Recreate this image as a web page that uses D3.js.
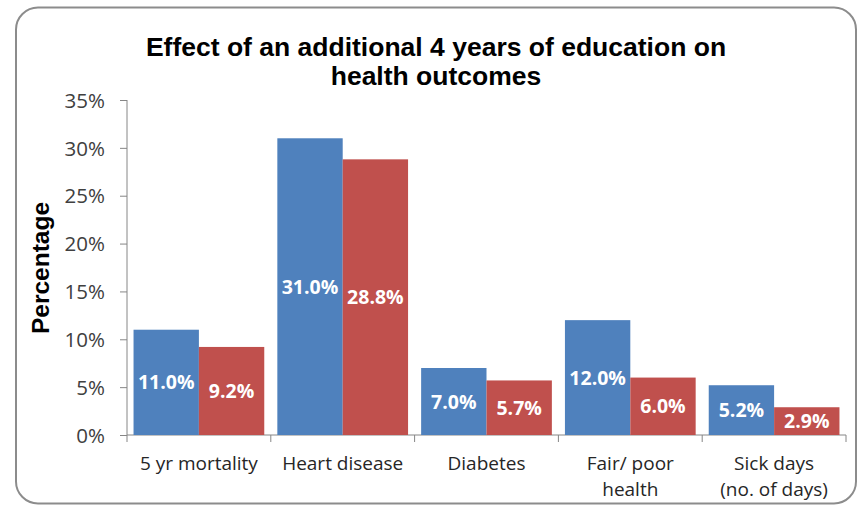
<!DOCTYPE html>
<html><head><meta charset="utf-8">
<script src="https://cdn.jsdelivr.net/npm/d3@7"></script>
<style>body{margin:0;background:#fff;} svg{display:block;}</style>
</head><body>
<script>
const categories = [["5 yr mortality"], ["Heart disease"], ["Diabetes"], ["Fair/ poor", "health"], ["Sick days", "(no. of days)"]];
const series1 = [11.0, 31.0, 7.0, 12.0, 5.2];
const series2 = [9.2, 28.8, 5.7, 6.0, 2.9];
const yTicks = [0, 5, 10, 15, 20, 25, 30, 35];
const titleLines = ["Effect of an additional 4 years of education on", "health outcomes"];
const yTitle = "Percentage";

const W = 857, H = 506;
const svg = d3.select("body").append("svg").attr("width", W).attr("height", H);

// frame
svg.append("rect").attr("x", 16).attr("y", 7.5).attr("width", 840).attr("height", 496)
  .attr("rx", 22).attr("ry", 22).attr("fill", "#fff").attr("stroke", "#8c8c8c").attr("stroke-width", 2);

const x0 = d3.scaleBand().domain(d3.range(categories.length)).range([127, 846]).paddingInner(0).paddingOuter(0);
const y = d3.scaleLinear().domain([0, 35]).range([435, 100]);
const inner = d3.scaleBand().domain([0, 1]).range([0, x0.bandwidth()]).paddingOuter(0.1).paddingInner(0);

// y axis
const yAxis = d3.axisLeft(y).tickValues(yTicks).tickSize(7).tickFormat(d => d + "%");
const gy = svg.append("g").attr("transform", "translate(127,0)").call(yAxis);
gy.select(".domain").attr("stroke", "#868686").attr("d", "M0,100V435");
gy.selectAll(".tick line").attr("stroke", "#868686");
gy.selectAll(".tick text").attr("x", -22).attr("dy", "0.35em").attr("fill", "#404040")
  .style("font-family", "'Open Sans', sans-serif").style("font-size", "20.5px");

// x axis
const gx = svg.append("g");
gx.append("line").attr("x1", 127).attr("x2", 846).attr("y1", y(0)).attr("y2", y(0)).attr("stroke", "#868686");
const bounds = d3.range(categories.length + 1).map(i => i < categories.length ? x0(i) : x0(i - 1) + x0.bandwidth());
gx.selectAll("line.tk").data(bounds).join("line").attr("class", "tk")
  .attr("x1", d => d).attr("x2", d => d).attr("y1", y(0)).attr("y2", y(0) + 7).attr("stroke", "#868686");

const labels = svg.append("g").selectAll("text").data(categories).join("text")
  .attr("text-anchor", "middle").attr("fill", "#262626")
  .style("font-family", "'Open Sans', sans-serif").style("font-size", "19px")
  .attr("x", (d, i) => x0(i) + x0.bandwidth() / 2);
labels.each(function(d, i) {
  const t = d3.select(this);
  d.forEach((line, j) => t.append("tspan").attr("x", x0(i) + x0.bandwidth() / 2).attr("y", 470 + j * 26).text(line));
});

// bars
const colors = ["#4F81BD", "#C0504D"];
const data = [];
categories.forEach((c, i) => { data.push({i, s: 0, v: series1[i]}); data.push({i, s: 1, v: series2[i]}); });
svg.append("g").selectAll("rect").data(data).join("rect")
  .attr("x", d => x0(d.i) + inner(d.s)).attr("width", inner.bandwidth())
  .attr("y", d => y(d.v)).attr("height", d => y(0) - y(d.v))
  .attr("fill", d => colors[d.s]);

svg.append("g").selectAll("text").data(data).join("text")
  .attr("x", d => x0(d.i) + inner(d.s) + inner.bandwidth() / 2)
  .attr("y", d => (y(d.v) + y(0)) / 2).attr("dy", "0.36em")
  .attr("text-anchor", "middle").attr("fill", "#fff")
  .style("font-family", "'Open Sans', sans-serif").style("font-size", "19.5px").style("font-weight", "bold")
  .text(d => d.v.toFixed(1) + "%");

// title
svg.append("g").selectAll("text").data(titleLines).join("text")
  .attr("x", 436).attr("y", (d, i) => 56 + i * 29).attr("text-anchor", "middle").attr("fill", "#000")
  .style("font-family", "'Liberation Sans', Arial, sans-serif").style("font-size", "26.5px").style("font-weight", "bold")
  .text(d => d);

svg.append("text").attr("transform", "translate(49,268) rotate(-90)").attr("text-anchor", "middle")
  .attr("fill", "#000").style("font-family", "'Liberation Sans', Arial, sans-serif")
  .style("font-size", "24.5px").style("font-weight", "bold").text(yTitle);
</script>
</body></html>
